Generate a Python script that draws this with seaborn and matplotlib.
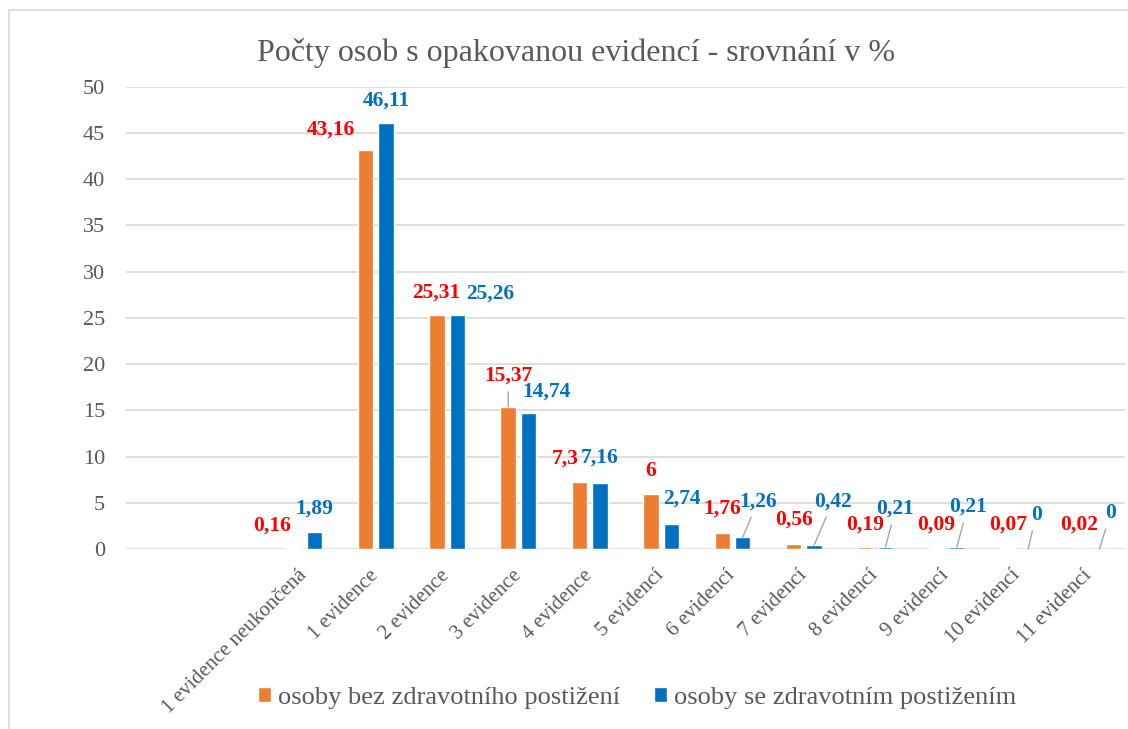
import pandas as pd
import seaborn as sns
import matplotlib.pyplot as plt
from matplotlib.patches import Patch, Rectangle

# --- data ---
categories = ['1 evidence neukončená', '1 evidence', '2 evidence', '3 evidence',
              '4 evidence', '5 evidencí', '6 evidencí', '7 evidencí',
              '8 evidencí', '9 evidencí', '10 evidencí', '11 evidencí']
bez_postizeni = [0.16, 43.16, 25.31, 15.37, 7.3, 6, 1.76, 0.56, 0.19, 0.09, 0.07, 0.02]
se_postizenim = [1.89, 46.11, 25.26, 14.74, 7.16, 2.74, 1.26, 0.42, 0.21, 0.21, 0, 0]
series_names = ['osoby bez zdravotního postižení', 'osoby se zdravotním postižením']

title = 'Počty osob s opakovanou evidencí - srovnání v %'

# --- styl ---
ORANGE = '#ED7D31'
BLUE = '#0070C0'
GRAY_TXT = '#595959'
label_colors = ['#FF0000', BLUE]

# posun popisků (v pixelech) a jestli mají vodicí čáru
red_offsets = [(-22, 22), (-35, 20), (-1, 22), (0, 31), (-14, 23), (0, 23),
               (0, 24), (0, 24), (0, 23), (0, 24), (0, 24), (0, 24)]
blue_offsets = [(0, 23), (0, 22), (33, 22), (18, 21), (0, 25), (11, 25),
                (15, 36), (19, 44), (10, 38), (11, 40), (8, 34), (11, 36)]
red_leader = [False, False, False, True] + [False] * 8
blue_leader = [False] * 6 + [True] * 6

df = pd.DataFrame({
    'kategorie': categories * 2,
    'hodnota': bez_postizeni + se_postizenim,
    'skupina': [series_names[0]] * len(categories) + [series_names[1]] * len(categories),
})

sns.set_theme(style='white')
plt.rcParams['font.family'] = ['Liberation Serif', 'DejaVu Serif']

fig = plt.figure(figsize=(11.28, 7.29), dpi=100)
ax = fig.add_axes([0.1117, 0.2469, 0.8856, 0.6342])

sns.barplot(data=df, x='kategorie', y='hodnota', hue='skupina',
            hue_order=series_names, palette=[ORANGE, BLUE], saturation=1,
            width=0.573, gap=0.24, legend=False, ax=ax, zorder=3)

ax.set_xlim(-2.5, len(categories) - 0.5)
ax.set_ylim(0, 50)
ax.set_yticks(range(0, 51, 5))
ax.grid(axis='y', color='#D9D9D9', linewidth=1.2, zorder=0)
ax.set_axisbelow(True)
for s in ax.spines.values():
    s.set_visible(False)
ax.set_xlabel('')
ax.set_ylabel('')
ax.tick_params(axis='y', length=0, pad=15, labelsize=16, labelcolor=GRAY_TXT)
ax.tick_params(axis='x', length=0, pad=17, labelsize=15, labelcolor=GRAY_TXT)
for lbl in ax.get_xticklabels():
    lbl.set_rotation(45)
    lbl.set_ha('right')
    lbl.set_va('center')
    lbl.set_rotation_mode('anchor')

# popisky dat
offsets = [red_offsets, blue_offsets]
leaders = [red_leader, blue_leader]
for k, cont in enumerate(ax.containers):
    for i, bar in enumerate(cont):
        h = bar.get_height()
        xc = bar.get_x() + bar.get_width() / 2
        txt = f'{h:g}'.replace('.', ',')
        dx, dy = offsets[k][i]
        arrow = dict(arrowstyle='-', color='#A6A6A6', lw=1, shrinkA=2, shrinkB=0) if leaders[k][i] else None
        ax.annotate(txt, xy=(xc, h), xytext=(dx, dy), textcoords='offset pixels',
                    ha='center', va='center', fontsize=15.5, fontweight='bold',
                    color=label_colors[k], arrowprops=arrow, zorder=5)

fig.text(0.5105, 1 - 61 / 729, title, ha='center', va='baseline',
         fontsize=23, color=GRAY_TXT)

handles = [Patch(facecolor=ORANGE), Patch(facecolor=BLUE)]
fig.legend(handles, series_names, loc='center', bbox_to_anchor=(0.5647, 0.0425),
           ncol=2, frameon=False, fontsize=19, labelcolor=GRAY_TXT,
           handlelength=0.5, handleheight=0.5, handletextpad=0.25,
           columnspacing=1.3, borderaxespad=0)

# rámeček grafu
fig.patches.append(Rectangle((9 / 1128, -0.1), 1.2, 1 - 10 / 729 + 0.1,
                             transform=fig.transFigure, fill=False,
                             edgecolor='#D9D9D9', linewidth=1.2))

fig.savefig('out.png', dpi=100)
